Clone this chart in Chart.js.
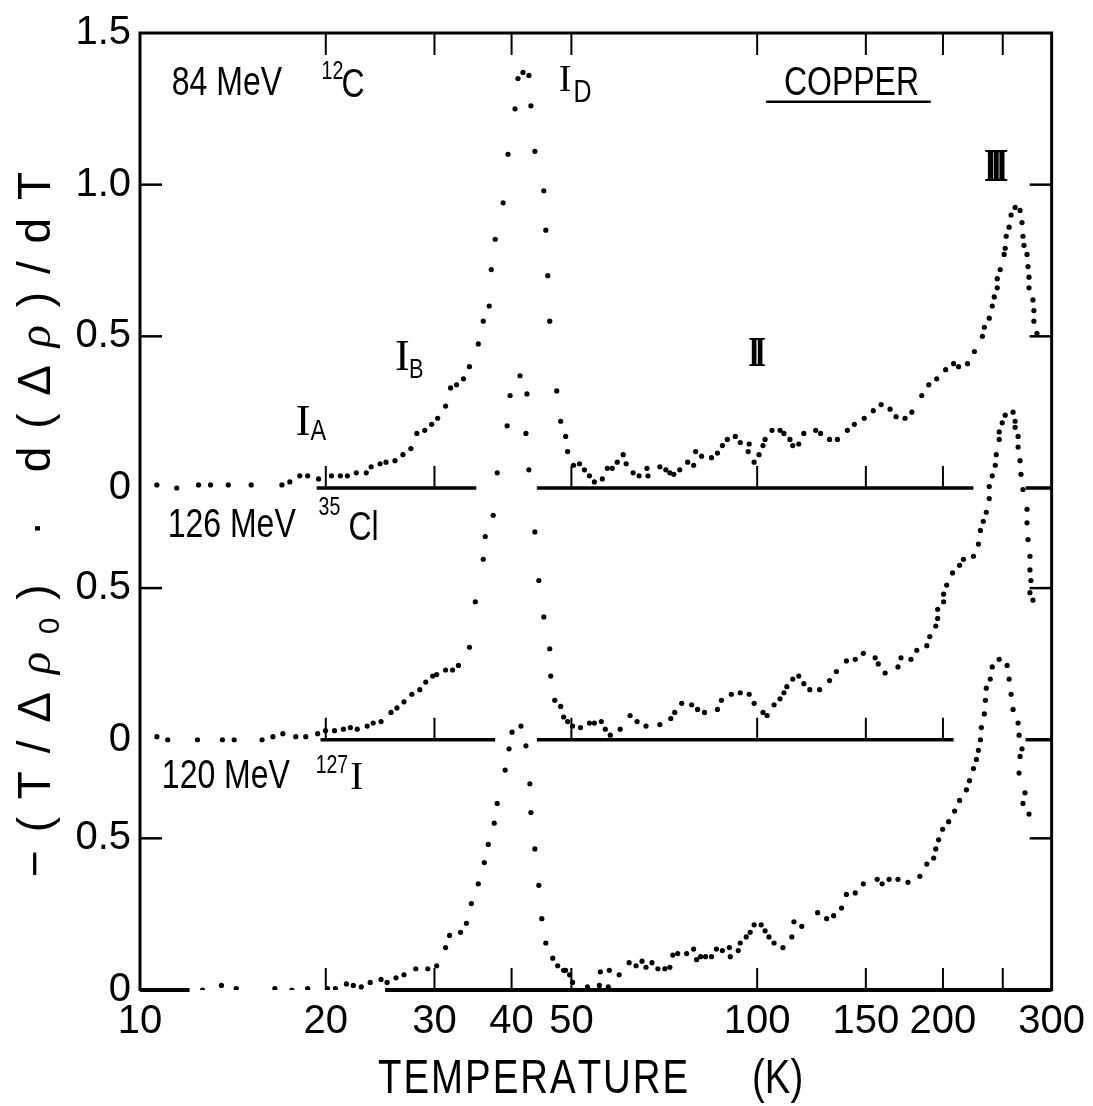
<!DOCTYPE html>
<html>
<head>
<meta charset="utf-8">
<title>Copper annealing spectra</title>
<script src="https://cdn.jsdelivr.net/npm/chart.js"></script>
<style>
  html, body { margin: 0; padding: 0; background: #fff; }
</style>
</head>
<body>
<canvas id="chart" width="1093" height="1106"></canvas>
<script>
// Annealing spectra of copper after heavy-ion irradiation.
// The three curves share one y axis, each shifted up to its own zero line.

// 84 MeV 12C
const tempC = [10.65, 11.47, 12.44, 13.01, 13.90, 15.14, 16.98, 17.49, 18.15, 18.69,
  19.47, 20.43, 21.12, 21.68, 22.41, 23.26, 23.69, 24.49, 25.04, 25.89,
  26.67, 27.47, 28.09, 28.93, 29.69, 30.36, 31.27, 31.86, 32.57, 33.43,
  34.18, 35.33, 35.99, 36.80, 37.08, 37.63, 38.76, 39.48, 40.52, 40.97,
  41.74, 42.67, 42.99, 43.63, 45.11, 45.45, 45.78, 46.12, 47.34, 48.04,
  48.94, 49.30, 50.41, 51.54, 52.50, 53.49, 54.48, 56.12, 57.17, 58.24,
  59.33, 60.66, 61.34, 62.95, 64.36, 66.29, 66.54, 69.56, 71.12, 72.19,
  73.26, 74.91, 77.16, 78.89, 79.48, 81.26, 84.33, 86.22, 87.83, 89.47,
  92.16, 93.88, 96.71, 97.06, 98.88, 100.7, 102.2, 103.0, 105.7, 108.9,
  110.5, 113.0, 114.2, 116.8, 119.0, 124.4, 126.7, 131.0, 134.9, 140.0,
  143.7, 149.1, 154.2, 158.8, 164.2, 167.9, 173.6, 178.1, 184.8, 189.7,
  195.4, 202.0, 208.1, 212.0, 219.2, 224.9, 231.7, 233.4, 237.7, 240.4,
  242.2, 244.9, 244.9, 247.6, 251.3, 252.3, 253.2, 256.0, 257.9, 261.8,
  266.7, 268.6, 269.6, 270.6, 273.7, 274.7, 275.7, 275.7, 279.8, 280.8,
  280.8, 284.0];
const derivC = [0.01, 0.00, 0.01, 0.01, 0.01, 0.01, 0.01, 0.02, 0.04, 0.04,
  0.03, 0.04, 0.04, 0.04, 0.05, 0.05, 0.07, 0.08, 0.085, 0.09,
  0.11, 0.13, 0.18, 0.19, 0.21, 0.23, 0.27, 0.33, 0.34, 0.36,
  0.40, 0.475, 0.55, 0.60, 0.72, 0.82, 0.94, 1.10, 1.25, 1.35,
  1.37, 1.36, 1.26, 1.11, 0.98, 0.85, 0.70, 0.55, 0.32, 0.22,
  0.17, 0.12, 0.075, 0.08, 0.06, 0.04, 0.02, 0.03, 0.065, 0.065,
  0.085, 0.11, 0.08, 0.05, 0.04, 0.065, 0.04, 0.07, 0.06, 0.05,
  0.045, 0.06, 0.085, 0.075, 0.12, 0.105, 0.10, 0.115, 0.14, 0.16,
  0.17, 0.15, 0.12, 0.145, 0.085, 0.11, 0.14, 0.16, 0.19, 0.19,
  0.18, 0.16, 0.14, 0.145, 0.18, 0.19, 0.18, 0.16, 0.16, 0.19,
  0.21, 0.23, 0.255, 0.275, 0.26, 0.235, 0.23, 0.25, 0.305, 0.34,
  0.36, 0.39, 0.41, 0.40, 0.41, 0.45, 0.50, 0.53, 0.56, 0.60,
  0.63, 0.66, 0.69, 0.72, 0.77, 0.79, 0.83, 0.86, 0.90, 0.925,
  0.915, 0.875, 0.83, 0.80, 0.77, 0.73, 0.695, 0.66, 0.62, 0.585,
  0.55, 0.51];

// 126 MeV 35Cl
const tempCl = [10.65, 11.09, 12.39, 13.60, 14.21, 15.77, 16.42, 17.04, 17.88, 18.56,
  19.40, 19.98, 20.66, 21.36, 21.92, 22.49, 23.34, 23.87, 24.58, 25.51,
  26.08, 26.77, 27.57, 28.40, 29.04, 29.80, 30.25, 31.27, 32.09, 32.81,
  34.18, 34.94, 35.99, 36.26, 37.35, 37.91, 39.34, 39.78, 41.28, 42.36,
  42.20, 42.67, 43.63, 44.28, 45.11, 46.12, 46.30, 46.99, 48.04, 48.58,
  49.30, 50.22, 51.73, 53.49, 54.48, 55.91, 56.75, 57.81, 59.99, 62.25,
  63.89, 66.05, 69.56, 72.45, 73.53, 75.46, 78.31, 80.07, 82.17, 86.22,
  87.51, 90.81, 93.88, 97.06, 98.88, 102.2, 103.8, 106.5, 108.9, 110.5,
  111.7, 114.2, 116.8, 119.0, 121.7, 126.2, 131.0, 134.4, 139.5, 144.2,
  148.6, 155.3, 157.1, 161.2, 169.1, 171.0, 177.5, 181.4, 188.3, 190.4,
  194.7, 196.1, 196.1, 200.5, 200.5, 202.8, 207.3, 212.8, 215.9, 224.1,
  228.3, 230.0, 232.5, 235.1, 237.7, 237.7, 240.4, 243.1, 244.0, 246.7,
  246.7, 249.5, 252.3, 259.8, 261.8, 261.8, 264.7, 264.7, 266.7, 267.6,
  269.6, 273.7, 273.7, 274.7, 276.7, 276.7, 277.7, 276.7, 279.8];
const derivCl = [0.01, 0.00, 0.00, 0.00, 0.00, 0.00, 0.01, 0.02, 0.01, 0.01,
  0.02, 0.03, 0.03, 0.035, 0.04, 0.035, 0.045, 0.055, 0.06, 0.09,
  0.105, 0.125, 0.15, 0.165, 0.19, 0.21, 0.215, 0.23, 0.23, 0.245,
  0.305, 0.455, 0.595, 0.67, 0.74, 0.88, 1.035, 1.135, 1.20, 1.14,
  1.01, 0.89, 0.685, 0.525, 0.405, 0.30, 0.21, 0.13, 0.11, 0.075,
  0.06, 0.045, 0.04, 0.055, 0.055, 0.06, 0.035, 0.015, 0.035, 0.08,
  0.06, 0.045, 0.05, 0.07, 0.09, 0.12, 0.115, 0.10, 0.09, 0.10,
  0.13, 0.15, 0.155, 0.15, 0.12, 0.09, 0.08, 0.115, 0.135, 0.155,
  0.175, 0.20, 0.21, 0.185, 0.165, 0.165, 0.195, 0.225, 0.26, 0.265,
  0.285, 0.27, 0.25, 0.22, 0.24, 0.27, 0.265, 0.295, 0.31, 0.34,
  0.375, 0.40, 0.43, 0.455, 0.48, 0.51, 0.55, 0.575, 0.595, 0.605,
  0.645, 0.69, 0.72, 0.75, 0.795, 0.835, 0.87, 0.905, 0.94, 0.99,
  1.015, 1.045, 1.07, 1.08, 1.05, 1.03, 1.00, 0.965, 0.92, 0.875,
  0.825, 0.76, 0.715, 0.66, 0.605, 0.56, 0.525, 0.485, 0.46];

// 120 MeV 127I
const tempI = [12.63, 13.55, 14.32, 16.54, 17.62, 18.69, 20.13, 20.73, 21.60, 22.16,
  22.83, 23.60, 24.58, 25.14, 25.99, 26.77, 27.98, 29.26, 30.25, 31.27,
  31.74, 33.06, 33.80, 34.43, 35.33, 36.13, 36.67, 37.49, 37.91, 39.05,
  39.63, 40.07, 41.43, 42.20, 42.83, 42.99, 43.63, 44.28, 44.78, 45.45,
  46.64, 47.51, 48.58, 48.94, 49.67, 50.22, 53.09, 55.50, 55.71, 57.38,
  57.60, 59.77, 62.02, 63.65, 65.08, 66.05, 67.53, 69.05, 70.86, 72.19,
  72.99, 74.35, 76.87, 78.89, 79.77, 80.96, 82.48, 84.33, 85.90, 87.83,
  90.14, 90.47, 93.19, 93.88, 95.99, 97.42, 98.88, 101.5, 103.0, 104.5,
  106.5, 110.1, 113.8, 114.7, 118.1, 125.3, 129.6, 133.0, 137.0, 139.5,
  144.2, 148.6, 156.5, 159.4, 163.6, 169.1, 175.5, 183.5, 188.3, 193.2,
  194.7, 196.8, 199.8, 204.3, 208.9, 212.8, 218.3, 220.8, 224.1, 226.6,
  228.3, 230.0, 230.8, 233.4, 234.3, 235.1, 238.6, 240.4, 246.7, 254.1,
  256.0, 257.9, 259.8, 264.7, 265.7, 268.6, 266.7, 265.7, 271.6, 269.6,
  275.7];
const derivI = [0.00, 0.015, 0.005, 0.005, 0.00, 0.005, 0.005, 0.005, 0.02, 0.015,
  0.01, 0.025, 0.035, 0.025, 0.04, 0.05, 0.07, 0.07, 0.08, 0.14,
  0.18, 0.19, 0.22, 0.285, 0.35, 0.42, 0.48, 0.55, 0.615, 0.725,
  0.795, 0.85, 0.87, 0.805, 0.68, 0.585, 0.465, 0.345, 0.235, 0.155,
  0.105, 0.08, 0.065, 0.065, 0.05, 0.025, 0.01, 0.015, 0.06, 0.01,
  0.065, 0.05, 0.09, 0.08, 0.095, 0.075, 0.09, 0.07, 0.07, 0.075,
  0.115, 0.12, 0.12, 0.135, 0.10, 0.11, 0.11, 0.11, 0.135, 0.13,
  0.14, 0.11, 0.13, 0.155, 0.175, 0.19, 0.215, 0.215, 0.195, 0.175,
  0.155, 0.14, 0.175, 0.225, 0.21, 0.255, 0.235, 0.245, 0.27, 0.315,
  0.32, 0.35, 0.365, 0.35, 0.365, 0.365, 0.355, 0.375, 0.415, 0.435,
  0.465, 0.495, 0.53, 0.555, 0.59, 0.625, 0.66, 0.69, 0.73, 0.76,
  0.79, 0.825, 0.865, 0.91, 0.955, 0.995, 1.025, 1.065, 1.09, 1.07,
  1.025, 0.975, 0.925, 0.88, 0.84, 0.795, 0.77, 0.715, 0.65, 0.615,
  0.58];

// zero of each curve on the shared axis (C, Cl, I)
const curveOffsets = [1.655, 0.825, 0];
const yMax = 3.155;

// temperature ranges where each zero line is drawn
const zeroLineC = [[19.33, 35.07], [43.96, 224.1]];
const zeroLineCl = [[19.61, 37.63], [43.96, 208.1]];
const zeroLineI = [[10, 12.03], [24.95, 300]];

const xTickValues = [10, 20, 30, 40, 50, 100, 150, 200, 300];
const xTickMarks = [20, 30, 40, 50, 100, 150, 200, 250];
const yTickValues = [0, 0.5, 0.825, 1.325, 1.655, 2.155, 2.655, 3.155];
const yTickLabels = ['0', '0.5', '0', '0.5', '0', '0.5', '1.0', '1.5'];

const SANS = "'Liberation Sans', Arial, sans-serif";
const SERIF = "'Liberation Serif', 'Times New Roman', serif";

// text placed in data coordinates (temperature, shifted y)
const notes = [
  { text: '84 MeV', t: 11.26, v: 2.951, size: 41 },
  { text: '12', t: 19.69, v: 3.003, size: 25 },
  { text: 'C', t: 21.20, v: 2.944, size: 41 },
  { text: 'I', t: 47.69, v: 2.964, size: 38, face: SERIF, squeeze: 1 },
  { text: 'D', t: 50.41, v: 2.928, size: 32 },
  { text: 'COPPER', t: 110.5, v: 2.951, size: 41 },
  { text: 'III', t: 244.0, v: 2.666, size: 46, face: SERIF, weight: 'bold', squeeze: 0.72, gap: -10, center: true },
  { text: 'II', t: 100.0, v: 2.056, size: 42, face: SERIF, weight: 'bold', squeeze: 0.72, gap: -8, center: true },
  { text: 'I', t: 25.89, v: 2.043, size: 44, face: SERIF, squeeze: 1 },
  { text: 'B', t: 27.27, v: 2.016, size: 28 },
  { text: 'I', t: 17.88, v: 1.830, size: 44, face: SERIF, squeeze: 1 },
  { text: 'A', t: 18.90, v: 1.813, size: 30 },
  { text: '126 MeV', t: 11.09, v: 1.492, size: 41 },
  { text: '35', t: 19.47, v: 1.567, size: 25 },
  { text: 'Cl', t: 21.76, v: 1.485, size: 41 },
  { text: '120 MeV', t: 10.85, v: 0.666, size: 41 },
  { text: '127', t: 19.26, v: 0.715, size: 25 },
  { text: 'I', t: 21.92, v: 0.662, size: 39, face: SERIF, squeeze: 1 }
];

function toPoints(temps, values, offset) {
  return temps.map((t, i) => ({ x: t, y: values[i] + offset }));
}

function dotSet(data) {
  return {
    data: data,
    showLine: false,
    pointRadius: 2.6,
    pointHoverRadius: 2.6,
    pointBackgroundColor: '#000',
    pointBorderWidth: 0
  };
}

function seg(ctx, x0, y0, x1, y1) {
  ctx.beginPath();
  ctx.moveTo(x0, y0);
  ctx.lineTo(x1, y1);
  ctx.stroke();
}

// draws runs of text char by char with extra spacing; returns width
function drawSpaced(ctx, runs, x0, y0, gap, measureOnly) {
  let cx = x0;
  let last = 0;
  runs.forEach(r => {
    if (r.font) ctx.font = r.font;
    for (const ch of r.s) {
      if (!measureOnly) ctx.fillText(ch, cx, y0 + (r.dy || 0));
      last = gap;
      cx += ctx.measureText(ch).width + gap;
    }
  });
  return cx - x0 - last;
}

// frame, zero lines, inward tick marks and all lettering
const framePlugin = {
  id: 'framePlugin',
  beforeDatasetsDraw(chart) {
    const { ctx, chartArea: a, scales: { x, y } } = chart;
    ctx.save();
    ctx.strokeStyle = '#000';

    ctx.lineWidth = 3;
    ctx.beginPath();
    ctx.moveTo(a.left, a.bottom + 1);
    ctx.lineTo(a.left, a.top);
    ctx.lineTo(a.right, a.top);
    ctx.lineTo(a.right, a.bottom + 1);
    ctx.stroke();

    ctx.lineWidth = 2;
    xTickMarks.forEach(t => {
      const px = x.getPixelForValue(t);
      seg(ctx, px, a.top, px, a.top + 22);
    });

    [zeroLineC, zeroLineCl, zeroLineI].forEach((ranges, k) => {
      const py = y.getPixelForValue(curveOffsets[k]);
      ctx.lineWidth = k === 2 ? 4 : 3.5;
      ranges.forEach(([t0, t1]) => seg(ctx, x.getPixelForValue(t0), py, x.getPixelForValue(t1), py));
      ctx.lineWidth = 2;
      xTickMarks.forEach(t => {
        const inside = ranges.some(([t0, t1]) => t >= t0 && t <= t1);
        if (k === 2 || inside) {
          const px = x.getPixelForValue(t);
          seg(ctx, px, py, px, py - 22);
        }
      });
      // zero mark on the right edge
      if (k < 2) {
        ctx.lineWidth = 3.5;
        seg(ctx, a.right - 26, py, a.right, py);
      }
    });

    // 0.5 and 1.0 marks on both sides
    ctx.lineWidth = 2.5;
    const marks = [0.5, curveOffsets[1] + 0.5, curveOffsets[0] + 0.5, curveOffsets[0] + 1.0];
    marks.forEach(v => {
      const py = y.getPixelForValue(v);
      seg(ctx, a.left, py, a.left + 22, py);
      seg(ctx, a.right - 22, py, a.right, py);
    });
    ctx.restore();
  },
  afterDraw(chart) {
    const { ctx, chartArea: a, scales: { x, y } } = chart;
    ctx.save();
    ctx.fillStyle = '#000';
    ctx.strokeStyle = '#000';
    ctx.textBaseline = 'alphabetic';
    ctx.textAlign = 'left';

    notes.forEach(n => {
      ctx.save();
      ctx.translate(x.getPixelForValue(n.t), y.getPixelForValue(n.v));
      ctx.scale(n.squeeze ?? 0.78, 1);
      ctx.font = `${n.weight || 'normal'} ${n.size}px ${n.face || SANS}`;
      const runs = [{ s: n.text }];
      const gap = n.gap || 0;
      const w = drawSpaced(ctx, runs, 0, 0, gap, true);
      drawSpaced(ctx, runs, n.center ? -w / 2 : 0, 0, gap);
      ctx.restore();
    });

    // underline of COPPER
    ctx.lineWidth = 2.5;
    const uy = y.getPixelForValue(2.928);
    seg(ctx, x.getPixelForValue(103.4), uy, x.getPixelForValue(191.1), uy);

    // x axis title
    ctx.save();
    ctx.translate(a.left + 238, 1093);
    ctx.scale(0.8, 1);
    ctx.font = `48px ${SANS}`;
    drawSpaced(ctx, [{ s: 'TEMPERATURE' }], 0, 0, 2.5);
    ctx.fillText('(K)', (752 - 378) / 0.8, 0);
    ctx.restore();

    // y axis title, read bottom to top
    ctx.save();
    ctx.translate(50, 525);
    ctx.rotate(-Math.PI / 2);
    const runs = [
      { s: '−(T/Δ', font: `46px ${SANS}` },
      { s: 'ρ', font: `italic 46px ${SERIF}` },
      { s: '0', font: `30px ${SANS}`, dy: 9 },
      { s: ') · d(Δ', font: `46px ${SANS}` },
      { s: 'ρ', font: `italic 46px ${SERIF}` },
      { s: ')/dT', font: `46px ${SANS}` }
    ];
    const w = drawSpaced(ctx, runs, 0, 0, 0, true);
    const count = runs.reduce((n, r) => n + r.s.length, 0) - 1;
    const gap = (705 - w) / count;
    drawSpaced(ctx, runs, -352, 0, gap);
    ctx.restore();

    ctx.restore();
  }
};

new Chart(document.getElementById('chart'), {
  type: 'scatter',
  data: {
    datasets: [
      dotSet(toPoints(tempC, derivC, curveOffsets[0])),
      dotSet(toPoints(tempCl, derivCl, curveOffsets[1])),
      dotSet(toPoints(tempI, derivI, curveOffsets[2]))
    ]
  },
  options: {
    responsive: false,
    animation: false,
    layout: { padding: { top: 26, right: 34, bottom: 0, left: 0 } },
    plugins: {
      legend: { display: false },
      tooltip: { enabled: false }
    },
    scales: {
      x: {
        type: 'logarithmic',
        min: 10,
        max: 300,
        grid: { display: false, drawTicks: false },
        border: { display: false },
        afterBuildTicks: s => { s.ticks = xTickValues.map(v => ({ value: v })); },
        afterFit: s => { s.height = 116; },
        ticks: {
          color: '#000',
          font: { family: SANS, size: 40 },
          padding: 8,
          maxRotation: 0,
          autoSkip: false,
          callback: v => String(v)
        }
      },
      y: {
        min: 0,
        max: yMax,
        grid: { display: false, drawTicks: false },
        border: { display: false },
        afterBuildTicks: s => { s.ticks = yTickValues.map(v => ({ value: v })); },
        afterFit: s => { s.width = 140; },
        ticks: {
          color: '#000',
          font: { family: SANS, size: 40 },
          padding: 9,
          autoSkip: false,
          callback: (v, i) => yTickLabels[i]
        }
      }
    }
  },
  plugins: [framePlugin]
});
</script>
</body>
</html>
